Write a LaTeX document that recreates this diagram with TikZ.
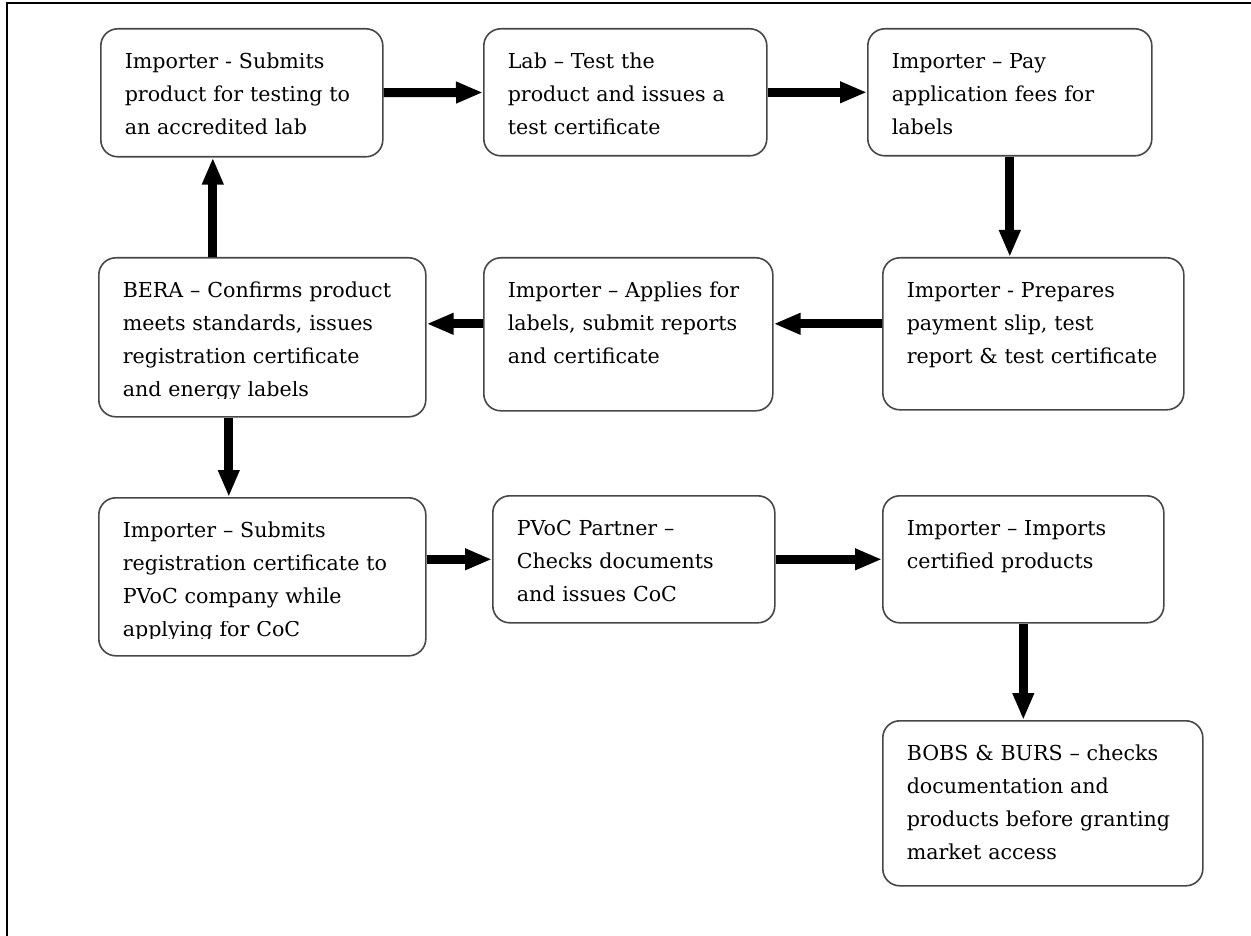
\documentclass[tikz,border=0pt]{standalone}
\usepackage{fontspec}
\usepackage{trimclip}
\setmainfont{DejaVu Serif}
\usetikzlibrary{positioning,arrows.meta}

\tikzset{
  flowbox/.style={draw=black!72, line width=1.6pt, rounded corners=17pt, anchor=north west,
    align=left, inner xsep=24pt, inner ysep=0pt, text height=40pt,
    font=\fontsize{20.6}{33}\selectfont},
  flowarrow/.style={-{Triangle[length=27pt,width=20pt]}, line width=9pt}
}
\newcommand{\cutline}[1]{\clipbox{0pt 3pt 0pt 0pt}{#1}}

\begin{document}
\begin{tikzpicture}[x=1pt,y=-1pt]
        \useasboundingbox (0,0) rectangle (1251,936);
        \draw[line width=2pt] (1251,3) -- (7,3) -- (7,936);
        \node[flowbox,text width=234pt,text depth=88pt] at (100,28) (submit) {Importer - Submits\\product for testing to\\an accredited lab};
        \node[flowbox,text width=235pt,text depth=87pt] at (483,28) (labtest) {Lab -- Test the\\product and issues a\\test certificate};
        \node[flowbox,text width=236pt,text depth=87pt] at (867,28) (fees) {Importer -- Pay\\application fees for\\labels};
        \node[flowbox,text width=279pt,text depth=119pt] at (98,257) (bera) {BERA -- Confirms product\\meets standards, issues\\registration certificate\\\cutline{and energy labels}};
        \node[flowbox,text width=241pt,text depth=113pt] at (483,257) (apply) {Importer -- Applies for\\labels, submit reports\\and certificate};
        \node[flowbox,text width=253pt,text depth=112pt] at (882,257) (slip) {Importer - Prepares\\payment slip, test\\report \& test certificate};
        \node[flowbox,text width=279pt,text depth=118pt] at (98,497) (reg) {Importer -- Submits\\registration certificate to\\PVoC company while\\\cutline{applying for CoC}};
        \node[flowbox,text width=234pt,text depth=87pt] at (492,495) (pvoc) {PVoC Partner --\\Checks documents\\and issues CoC};
        \node[flowbox,text width=233pt,text depth=87pt] at (882,495) (imports) {Importer -- Imports\\certified products};
        \node[flowbox,text width=272pt,text depth=125pt] at (882,720) (market) {BOBS \& BURS -- checks\\documentation and\\products before granting\\market access};
        \path[flowarrow]
        (submit) edge (labtest)
        (labtest) edge (fees)
        (fees.south) edge (fees.south |- slip.north)
        ([yshift=10pt]slip.west) edge ([yshift=10pt]slip.west -| apply.east)
        ([yshift=10.5pt]apply.west) edge ([yshift=10.5pt]apply.west -| bera.east)
        ([xshift=-49.5pt]bera.north) edge ([xshift=-49.5pt]bera.north |- submit.south)
        ([xshift=-33.5pt]bera.south) edge ([xshift=-33.5pt]bera.south |- reg.north)
        (pvoc.west -| reg.east) edge (pvoc.west)
        (pvoc) edge (imports)
        (imports.south) edge (imports.south |- market.north)
        ;
\end{tikzpicture}
\end{document}
